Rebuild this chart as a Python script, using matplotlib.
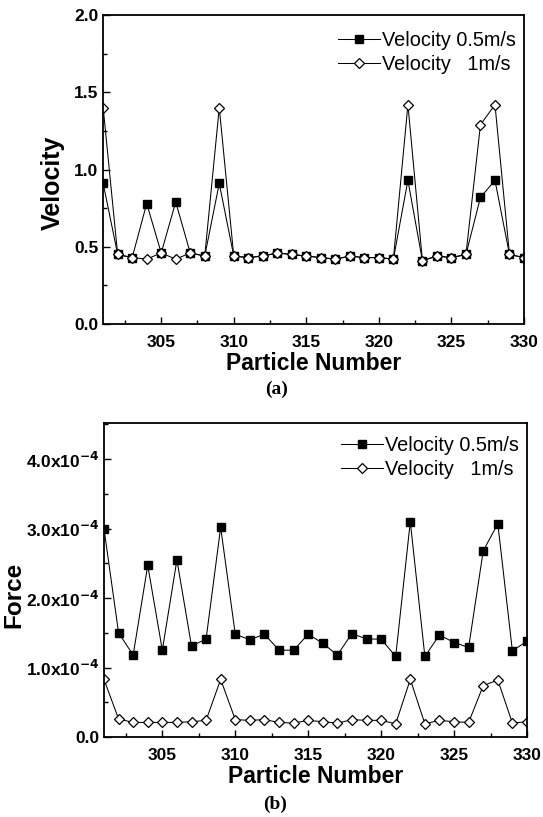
import numpy as np
import matplotlib
matplotlib.use("Agg")
import matplotlib.pyplot as plt
from matplotlib.ticker import MultipleLocator, FuncFormatter

plt.rcParams['font.family'] = ['Liberation Sans', 'DejaVu Sans']

particles = np.arange(301, 331)

vel_05 = [0.91, 0.45, 0.43, 0.78, 0.46, 0.79, 0.46, 0.44, 0.91, 0.44,
          0.43, 0.44, 0.46, 0.45, 0.44, 0.43, 0.42, 0.44, 0.43, 0.43,
          0.42, 0.93, 0.41, 0.44, 0.43, 0.45, 0.82, 0.93, 0.45, 0.43]
vel_1 = [1.40, 0.45, 0.43, 0.42, 0.46, 0.42, 0.46, 0.44, 1.40, 0.44,
         0.43, 0.44, 0.46, 0.45, 0.44, 0.43, 0.42, 0.44, 0.43, 0.43,
         0.42, 1.42, 0.41, 0.44, 0.43, 0.45, 1.29, 1.42, 0.45, 0.43]

# force in units of 1e-4
force_05 = [3.00, 1.50, 1.18, 2.47, 1.25, 2.55, 1.31, 1.41, 3.02, 1.48,
            1.40, 1.48, 1.25, 1.25, 1.48, 1.35, 1.18, 1.49, 1.41, 1.41,
            1.16, 3.10, 1.16, 1.47, 1.36, 1.29, 2.68, 3.07, 1.24, 1.38]
force_1 = [0.83, 0.26, 0.21, 0.21, 0.21, 0.21, 0.22, 0.24, 0.83, 0.25,
           0.24, 0.25, 0.21, 0.20, 0.24, 0.22, 0.20, 0.25, 0.24, 0.24,
           0.19, 0.83, 0.19, 0.24, 0.22, 0.21, 0.74, 0.82, 0.20, 0.22]

labels = ['Velocity 0.5m/s', 'Velocity   1m/s']

fig = plt.figure(figsize=(5.43, 8.17), dpi=100)
ax1 = fig.add_axes([0.19, 0.6034, 0.775, 0.3782])
ax2 = fig.add_axes([0.1915, 0.0979, 0.779, 0.3843])


def style(ax, leg_y):
    ax.set_xlim(301, 330)
    ax.xaxis.set_major_locator(MultipleLocator(5))
    ax.xaxis.set_minor_locator(MultipleLocator(2.5))
    ax.tick_params(which='both', direction='in', top=False, right=False,
                   labelsize=12.5, width=1.0)
    ax.tick_params(axis='x', which='major', pad=8)
    ax.tick_params(which='major', length=5)
    ax.tick_params(which='minor', length=3)
    for lab in ax.get_xticklabels() + ax.get_yticklabels():
        lab.set_fontweight('bold')
    for s in ax.spines.values():
        s.set_linewidth(1.3)
    ax.set_xlabel('Particle Number', fontsize=16.5, fontweight='bold', labelpad=1)
    ax.legend(loc='upper right', bbox_to_anchor=(1.0, leg_y), frameon=False,
              fontsize=14.3, handlelength=2.1, handletextpad=0.1,
              borderaxespad=0.1, borderpad=0.3, labelspacing=0.25)


ax1.plot(particles, vel_05, '-', color='black', lw=0.75, marker='s', ms=5.8,
         mfc='black', mec='black', label=labels[0])
ax1.plot(particles, vel_1, '-', color='black', lw=0.75, marker='D', ms=4.6,
         mfc='white', mec='black', mew=0.9, label=labels[1])
ax1.set_ylim(0, 2.0)
ax1.yaxis.set_major_locator(MultipleLocator(0.5))
ax1.yaxis.set_minor_locator(MultipleLocator(0.25))
ax1.yaxis.set_major_formatter(FuncFormatter(lambda v, p: f'{v:.1f}'))
ax1.set_ylabel('Velocity', fontsize=18, fontweight='bold')
style(ax1, 0.974)
ax1.yaxis.set_label_coords(-0.09, 0.456)
fig.text(0.509, 0.524, '(a)', fontsize=14, fontweight='bold',
         family=['Liberation Serif', 'DejaVu Serif'], ha='center', va='center')

f05 = np.array(force_05) * 1e-4
f1 = np.array(force_1) * 1e-4
ax2.plot(particles, f05, '-', color='black', lw=0.75, marker='s', ms=5.3,
         mfc='black', mec='black', label=labels[0])
ax2.plot(particles, f1, '-', color='black', lw=0.75, marker='D', ms=5.4,
         mfc='white', mec='black', mew=0.9, label=labels[1])
ax2.set_ylim(0, 4.52e-4)
ax2.yaxis.set_major_locator(MultipleLocator(1e-4))
ax2.yaxis.set_minor_locator(MultipleLocator(0.5e-4))


def force_fmt(v, p):
    if abs(v) < 1e-12:
        return '0.0'
    return r'%.1fx10$^{\mathbf{-4}}$' % (v * 1e4)


ax2.yaxis.set_major_formatter(FuncFormatter(force_fmt))
ax2.set_ylabel('Force', fontsize=17.5, fontweight='bold')
style(ax2, 0.984)
ax2.yaxis.set_label_coords(-0.187, 0.452)
fig.text(0.506, 0.016, '(b)', fontsize=14, fontweight='bold',
         family=['Liberation Serif', 'DejaVu Serif'], ha='center', va='center')

fig.savefig('out.png', dpi=100)
